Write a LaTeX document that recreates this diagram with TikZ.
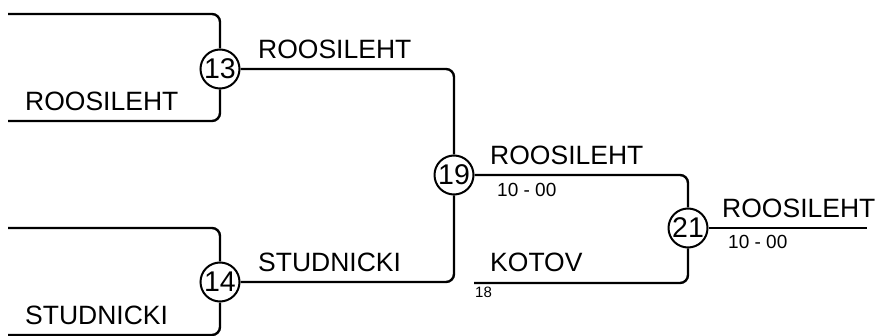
\documentclass[tikz,border=0pt]{standalone}
\usepackage{fontspec}
\setmainfont{Liberation Sans}
\begin{document}
\begin{tikzpicture}[x=1pt,y=-1pt,
  line/.style={line width=2.4pt, rounded corners=8pt},
  match/.style={circle, draw, line width=2pt, minimum size=39pt, inner sep=0pt, fill=white, font=\fontsize{28.5}{28.5}\selectfont},
  pname/.style={anchor=base west, inner sep=0pt, font=\fontsize{26.5}{26.5}\selectfont},
  score/.style={anchor=base west, inner sep=0pt, font=\fontsize{19}{19}\selectfont},
  seed/.style={anchor=base west, inner sep=0pt, font=\fontsize{15}{15}\selectfont}]
\useasboundingbox (0,0) rectangle (877,336);
% match circles
\node[match] (c13) at (220,69) {13};
\node[match] (c14) at (220,282) {14};
\node[match] (c19) at (454,175) {19};
\node[match] (c21) at (688,228) {21};
% free ends
\coordinate (a1) at (8,14);
\coordinate (a2) at (8,121);
\coordinate (b1) at (8,228);
\coordinate (b2) at (8,335);
\coordinate (k1) at (474,283);
\coordinate (e1) at (867,228);
% connectors
\draw[line] (a1) -| (c13.north);
\draw[line] (a2) -| (c13.south);
\draw[line] (b1) -| (c14.north);
\draw[line] (b2) -| (c14.south);
\draw[line] (c13.east) -| (c19.north);
\draw[line] (c14.east) -| (c19.south);
\draw[line] (c19.east) -| (c21.north);
\draw[line] (k1) -| (c21.south);
\draw[line] (c21.east) -- (e1);
% labels
\node[pname] (l1) at (25,111) {ROOSILEHT};
\node[pname] (l2) at (25,324) {STUDNICKI};
\node[pname] (l3) at (258,59) {ROOSILEHT};
\node[pname] (l4) at (258,272) {STUDNICKI};
\node[pname] (l5) at (490,165) {ROOSILEHT};
\node[score] (s5) at (497,197) {10 - 00};
\node[pname] (l6) at (490,272) {KOTOV};
\node[seed] (s6) at (475,298) {18};
\node[pname] (l7) at (722,218) {ROOSILEHT};
\node[score] (s7) at (728,249) {10 - 00};
\end{tikzpicture}
\end{document}
